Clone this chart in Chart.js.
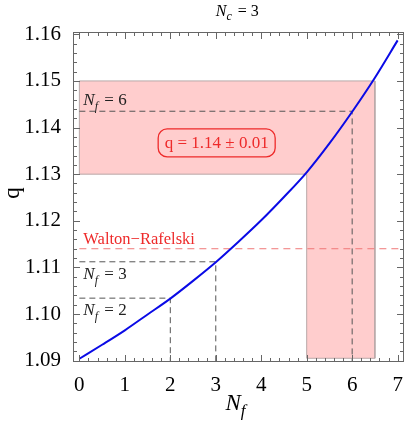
<!DOCTYPE html>
<html>
<head>
<meta charset="utf-8">
<script src="https://cdn.jsdelivr.net/npm/chart.js@4.4.1/dist/chart.umd.min.js"></script>
<style>
  html, body { margin: 0; padding: 0; background: #fff; }
  #wrap { width: 408px; height: 425px; }
</style>
</head>
<body>
<div id="wrap"><canvas id="chart"></canvas></div>
<script>
// q as a function of N_f
const nfValues = [0, 0.5, 1, 1.5, 2, 2.5, 3, 3.5, 4, 4.5, 5, 5.5, 6, 6.5, 7];
const qValues = [1.0904, 1.0934, 1.0965, 1.0999, 1.1033, 1.1071, 1.1111, 1.1155,
                 1.1201, 1.1251, 1.1304, 1.1366, 1.1434, 1.1507, 1.1587];

// marked flavour numbers and their q
const markNf = [2, 3, 6];
const markQ = [1.1034, 1.1112, 1.1435];

// Walton-Rafelski value
const waltonQ = 1.114;

// allowed band q = 1.14 +- 0.01 and the N_f range it maps to
const bandQ = [1.13, 1.15];
const bandNf = [5, 6.5];
const bandFloor = 1.0905;

const xTicks = [0, 1, 2, 3, 4, 5, 6, 7];
const yTicks = [1.09, 1.10, 1.11, 1.12, 1.13, 1.14, 1.15, 1.16];

const xMin = -0.14, xMax = 7.14;
const yMin = 1.0897, yMax = 1.1605;

const serif = "'Liberation Serif', 'DejaVu Serif', serif";
Chart.defaults.font.family = serif;

const pts = (xs, ys) => xs.map((x, i) => ({ x: x, y: ys[i] }));

const datasets = [
  {
    data: pts(nfValues, qValues),
    borderColor: '#0a0ae6',
    borderWidth: 2,
    pointRadius: 0,
    showLine: true,
    tension: 0.4,
    cubicInterpolationMode: 'monotone'
  }
];

// dashed guide lines for each marked N_f
markNf.forEach((nf, i) => {
  datasets.push({
    data: [{ x: 0, y: markQ[i] }, { x: nf, y: markQ[i] }, { x: nf, y: yMin }],
    borderColor: '#555',
    borderWidth: 1,
    borderDash: [6, 4],
    pointRadius: 0,
    showLine: true
  });
});

datasets.push({
  data: [{ x: 0, y: waltonQ }, { x: xMax, y: waltonQ }],
  borderColor: '#f07878',
  borderWidth: 1,
  borderDash: [7, 5],
  pointRadius: 0,
  showLine: true
});

// L-shaped shaded band
datasets.push({
  data: [
    { x: 0, y: bandQ[0] }, { x: 0, y: bandQ[1] }, { x: bandNf[1], y: bandQ[1] },
    { x: bandNf[1], y: bandFloor }, { x: bandNf[0], y: bandFloor },
    { x: bandNf[0], y: bandQ[0] }, { x: 0, y: bandQ[0] }
  ],
  borderColor: '#b8a8a8',
  borderWidth: 1,
  backgroundColor: '#ffcdcd',
  fill: 'shape',
  pointRadius: 0,
  showLine: true
});

// draw N_f = k with italic N and subscript f
function drawNf(ctx, x, y, size, sub, rest) {
  ctx.textBaseline = 'alphabetic';
  ctx.textAlign = 'left';
  ctx.font = 'italic ' + size + 'px ' + serif;
  ctx.fillText('N', x, y);
  let w = ctx.measureText('N').width;
  ctx.font = 'italic ' + Math.round(size * 0.72) + 'px ' + serif;
  ctx.fillText(sub, x + w, y + size * 0.28);
  w += ctx.measureText(sub).width + 1;
  if (rest) {
    ctx.font = size + 'px ' + serif;
    ctx.fillText(rest, x + w + 1, y);
    w += ctx.measureText(rest).width + 1;
  }
  return w;
}

const decor = {
  id: 'decor',
  afterDatasetsDraw(chart) {
    const ctx = chart.ctx;
    const a = chart.chartArea;
    const sx = chart.scales.x, sy = chart.scales.y;
    ctx.save();

    // frame
    ctx.strokeStyle = '#666';
    ctx.lineWidth = 1;
    ctx.strokeRect(a.left + 0.5, a.top + 0.5, a.right - a.left - 1, a.bottom - a.top - 1);

    // inward ticks on all four sides
    ctx.beginPath();
    for (let i = 0; i <= 35; i++) {
      const v = i * 0.2;
      const px = Math.round(sx.getPixelForValue(v)) + 0.5;
      const len = i % 5 === 0 ? 7 : 4;
      ctx.moveTo(px, a.bottom); ctx.lineTo(px, a.bottom - len);
      ctx.moveTo(px, a.top); ctx.lineTo(px, a.top + len);
    }
    for (let i = 0; i <= 35; i++) {
      const v = 1.09 + i * 0.002;
      const py = Math.round(sy.getPixelForValue(v)) + 0.5;
      const len = i % 5 === 0 ? 7 : 4;
      ctx.moveTo(a.left, py); ctx.lineTo(a.left + len, py);
      ctx.moveTo(a.right, py); ctx.lineTo(a.right - len, py);
    }
    ctx.stroke();

    // N_f labels at the guide lines
    ctx.fillStyle = '#222';
    const lx = sx.getPixelForValue(0) + 4;
    drawNf(ctx, lx, sy.getPixelForValue(markQ[2]) - 6, 17, 'f', ' = 6');
    drawNf(ctx, lx, sy.getPixelForValue(markQ[1]) + 17, 17, 'f', ' = 3');
    drawNf(ctx, lx, sy.getPixelForValue(markQ[0]) + 17, 17, 'f', ' = 2');

    // Walton-Rafelski label
    ctx.fillStyle = '#ee2a2a';
    ctx.font = '16.5px ' + serif;
    ctx.textAlign = 'left';
    ctx.textBaseline = 'alphabetic';
    ctx.fillText('Walton\u2212Rafelski', lx, sy.getPixelForValue(waltonQ) - 5);

    // boxed q value
    const cx = sx.getPixelForValue(3.02), cy = sy.getPixelForValue(1.1367);
    const bw = 117, bh = 28, r = 9;
    const bx = cx - bw / 2, by = cy - bh / 2;
    ctx.beginPath();
    ctx.moveTo(bx + r, by);
    ctx.arcTo(bx + bw, by, bx + bw, by + bh, r);
    ctx.arcTo(bx + bw, by + bh, bx, by + bh, r);
    ctx.arcTo(bx, by + bh, bx, by, r);
    ctx.arcTo(bx, by, bx + bw, by, r);
    ctx.closePath();
    ctx.strokeStyle = '#ee2a2a';
    ctx.lineWidth = 1.3;
    ctx.stroke();
    ctx.font = '17px ' + serif;
    ctx.textAlign = 'center';
    ctx.textBaseline = 'middle';
    ctx.fillText('q = 1.14 \u00b1 0.01', cx, cy + 1);

    // title
    ctx.fillStyle = '#000';
    const tx = (a.left + a.right) / 2;
    ctx.font = 'italic 16px ' + serif;
    const tw = ctx.measureText('N').width + 8 + ctx.measureText(' = 3').width;
    drawNf(ctx, tx - tw / 2, 16, 16, 'c', ' = 3');

    // x axis title
    ctx.fillStyle = '#000';
    drawNf(ctx, tx - 13, 410, 23, 'f', '');

    // y axis title
    ctx.save();
    ctx.translate(13, (a.top + a.bottom) / 2 - 4);
    ctx.rotate(-Math.PI / 2);
    ctx.font = '23px ' + serif;
    ctx.textAlign = 'center';
    ctx.textBaseline = 'middle';
    ctx.fillText('q', 0, 0);
    ctx.restore();

    ctx.restore();
  }
};

new Chart(document.getElementById('chart'), {
  type: 'scatter',
  data: { datasets: datasets },
  options: {
    responsive: true,
    maintainAspectRatio: false,
    animation: false,
    layout: { padding: { left: 0, top: 32, right: 4, bottom: 0 } },
    plugins: { legend: { display: false }, tooltip: { enabled: false } },
    scales: {
      x: {
        type: 'linear',
        min: xMin,
        max: xMax,
        afterBuildTicks: s => { s.ticks = xTicks.map(v => ({ value: v })); },
        afterFit: s => { s.height = 63; },
        grid: { display: false },
        border: { display: false },
        ticks: { color: '#000', padding: 3, font: { size: 21 }, maxRotation: 0 }
      },
      y: {
        type: 'linear',
        min: yMin,
        max: yMax,
        afterBuildTicks: s => { s.ticks = yTicks.map(v => ({ value: v })); },
        afterFit: s => { s.width = 73; },
        grid: { display: false },
        border: { display: false },
        ticks: { color: '#000', padding: 4, font: { size: 21 }, callback: v => v.toFixed(2) }
      }
    }
  },
  plugins: [decor]
});
</script>
</body>
</html>
